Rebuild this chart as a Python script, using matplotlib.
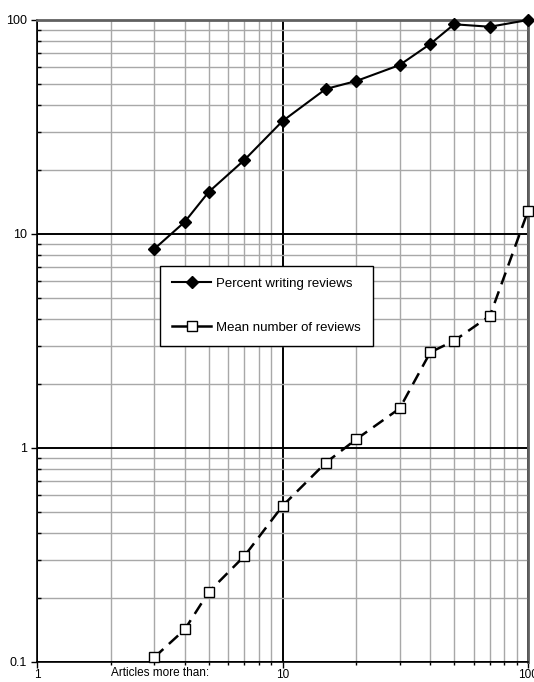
import numpy as np
import matplotlib.pyplot as plt
from matplotlib.ticker import FixedLocator, LogLocator, NullFormatter

# --- données ---
articles = [3, 4, 5, 7, 10, 15, 20, 30, 40, 50, 70, 100]
pct_reviews = [8.5, 11.4, 15.7, 22.2, 33.7, 47.6, 51.9, 61.6, 77.3, 95.5, 93.0, 100.0]
mean_reviews = [0.105, 0.142, 0.212, 0.313, 0.536, 0.853, 1.10, 1.53, 2.8, 3.17, 4.15, 12.8]

x_ticks = [1, 10, 100]
x_labels = ["1", "10", "100"]
y_ticks = [0.1, 1, 10, 100]
y_labels = ["0.1", "1", "10", "100"]

plt.rcParams['font.family'] = ['Liberation Sans', 'DejaVu Sans']

fig = plt.figure(figsize=(5.34, 6.82), dpi=100)
W, H = 534, 682
ax = fig.add_axes([37 / W, (H - 662) / H, (528 - 37) / W, (662 - 20) / H])

ax.set_xscale('log')
ax.set_yscale('log')
ax.set_xlim(1, 100)
ax.set_ylim(0.1, 100)

# grille
ax.xaxis.set_minor_locator(LogLocator(base=10, subs=np.arange(2, 10)))
ax.yaxis.set_minor_locator(LogLocator(base=10, subs=np.arange(2, 10)))
ax.xaxis.set_minor_formatter(NullFormatter())
ax.yaxis.set_minor_formatter(NullFormatter())
ax.grid(which='minor', color='#a8a8a8', lw=1.0)
ax.grid(which='major', color='black', lw=1.4)
ax.set_axisbelow(True)

ax.xaxis.set_major_locator(FixedLocator(x_ticks))
ax.set_xticklabels(x_labels)
ax.yaxis.set_major_locator(FixedLocator(y_ticks))
ax.set_yticklabels(y_labels)
ax.tick_params(which='major', direction='out', length=4, width=1, labelsize=9, pad=3)
ax.tick_params(axis='x', which='major', pad=1, labelsize=8.5)
ax.tick_params(axis='y', which='minor', direction='in', length=3, width=1)
ax.tick_params(axis='x', which='minor', direction='out', length=2, width=1)

for s in ['left', 'bottom']:
    ax.spines[s].set_color('black')
    ax.spines[s].set_linewidth(1.2)
for s in ['top', 'right']:
    ax.spines[s].set_color('#606060')
    ax.spines[s].set_linewidth(2)

ax.plot(articles, pct_reviews, color='black', lw=1.5, marker='D', ms=6.5,
        mfc='black', mec='black', label='Percent writing reviews', clip_on=False, zorder=5)
ax.plot(articles, mean_reviews, color='black', lw=1.8, ls=(0, (5, 3)), marker='s', ms=7.5,
        mfc='white', mec='black', mew=1, label='Mean number of reviews', clip_on=False, zorder=5)

leg = ax.legend(loc='upper left', bbox_to_anchor=((160 - 37) / 491, (662 - 266) / 642),
                fontsize=9.5, frameon=True, fancybox=False, edgecolor='black',
                framealpha=1, borderpad=0.9, labelspacing=2.4, handlelength=3.0,
                handletextpad=0.35, borderaxespad=0)
leg.get_frame().set_linewidth(1)
for h in leg.get_lines():
    h.set_linestyle('-')

fig.text(160 / W, 1 - 673 / H, "Articles more than:", ha='center', va='center', fontsize=8.5)

fig.savefig('out.png', dpi=100)
